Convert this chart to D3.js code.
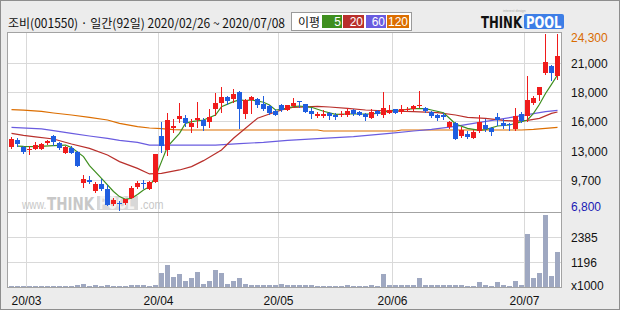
<!DOCTYPE html>
<html><head><meta charset="utf-8">
<script src="https://cdn.jsdelivr.net/npm/d3@7/dist/d3.min.js"></script>
<style>html,body{margin:0;padding:0;background:#ececec}svg{display:block}</style>
</head><body>
<script>
// ---------- data ----------
const title = "조비(001550) · 일간(92일) 2020/02/26 ~ 2020/07/08";
const maLegend = ["5", "20", "60", "120"];
// trading days by month (2020)
const febDays = [26,27,28];
const marDays = [2,3,4,5,6,9,10,11,12,13,16,17,18,19,20,23,24,25,26,27,30,31];
const aprDays = [1,2,3,6,7,8,9,10,13,14,16,17,20,21,22,23,24,27,28,29];
const mayDays = [4,6,7,8,11,12,13,14,15,18,19,20,21,22,25,26,27,28,29];
const junDays = [1,2,3,4,5,8,9,10,11,12,15,16,17,18,19,22,23,24,25,26,29,30];
const julDays = [1,2,3,6,7,8];

const open  = [13000,13750,13000,12800,12800,12800,13400,14100,13400,12450,12900,12550,9400,9700,8600,9300,8850,7300,7400,7400,
  7950,9000,9450,8850,9550,14150,12750,14950,15850,15950,15050,15700,15750,15550,16850,17400,18050,17850,18550,16350,
  17750,17850,17350,17150,16600,17200,16750,17150,17600,17300,16650,16150,16150,16450,16250,16200,16250,16750,16500,16350,
  15950,16650,16250,16450,16800,16500,16700,16850,17150,16950,16500,16250,16250,15050,15450,14150,14350,13950,14650,15200,
  14950,16050,15400,15300,14850,16300,16150,17450,18250,20450,21150,20150];
const high  = [14000,13900,13100,13100,13500,13450,13750,14200,13500,13100,13100,12600,10250,10150,9500,9800,9200,7900,7600,7850,
  9150,9600,9700,9600,12350,15550,16450,15850,17450,16250,15800,17550,15950,16800,18450,19000,18150,18800,18650,17800,
  18150,17900,18150,17200,16800,17350,17250,17950,17600,17350,16900,16550,16700,16500,16400,16650,16950,16800,16600,16400,
  16850,16700,18550,17250,16850,17250,17050,17250,18650,17050,16600,16300,16400,15650,15500,15050,14600,14700,16200,15800,
  15050,16450,15800,15400,16950,16550,20150,18150,19050,24300,21250,24300];
const low   = [12900,13100,12450,12300,12800,12800,13350,13250,12850,12450,12450,11100,9000,9400,8500,8750,7200,7250,6800,7350,
  7900,8900,8950,8800,9550,12550,12200,14550,15550,15150,14500,15050,14700,15050,16250,16550,17350,17550,14950,15900,
  16450,17050,16750,16350,16200,16650,16700,17000,17050,16500,15950,16050,16050,15800,15850,16100,16150,16250,16200,15750,
  15900,16250,16050,16400,16400,16400,16600,16750,17000,16550,16050,15750,15850,14950,13850,14000,13900,13950,14500,14600,
  14250,15200,14900,14750,14750,15550,15650,17350,17750,20350,19750,19850];
const close = [13850,13300,12500,12850,13200,13350,13650,13550,12900,13000,12450,11150,9850,9500,9350,8800,7250,7750,7300,7800,
  8950,9400,9400,9550,12350,13100,15750,15150,16150,15400,15450,15950,15150,16050,17450,18000,17650,18350,16800,17750,
  18050,17200,16850,16450,16250,16750,17200,17450,17550,16550,16350,16350,16350,16150,16050,16350,16600,16300,16250,16050,
  16550,16300,16950,16750,16450,16850,16850,17100,17200,16650,16150,15900,16000,15550,13850,14750,14050,14550,15550,14800,
  14500,15750,15150,15200,16150,15650,17750,17950,19050,21550,20450,22150];
// volume, thousands of shares
const volume = [50,50,50,50,50,50,50,50,50,50,50,100,150,50,100,50,100,50,50,50,
  100,100,100,50,140,710,1050,480,620,290,430,760,190,330,810,710,190,330,430,190,
  140,140,140,140,100,190,100,140,100,100,100,50,50,50,50,50,100,50,50,50,
  100,50,620,100,100,100,100,100,430,100,100,100,100,100,100,100,50,50,240,100,
  50,240,100,50,330,100,2570,430,670,3470,570,1670];

// moving averages: [day index, price]
const ma5 = [[1,13140],[2,13110],[4,13080],[7,13180],[9,13240],[10,12980],[12,12080],[13,11190],[15,9910],[17,8600],[18,8090],[19,7820],[20,7920],[21,8310],[22,8750],[23,9080],[24,10080],[25,11580],[26,13080],[28,14410],[29,15410],[30,15580],[32,15740],[34,16240],[35,17070],[37,17570],[38,17740],[39,17670],[40,17740],[42,17510],[43,17240],[44,16740],[45,16810],[47,17070],[48,17140],[50,17010],[52,16610],[54,16310],[56,16340],[58,16340],[60,16340],[62,16470],[63,16670],[65,16740],[67,16870],[69,16870],[70,16740],[72,16470],[73,15910],[74,15340],[76,14910],[78,14710],[79,14780],[81,15140],[83,15240],[84,15410],[86,15740],[87,16410],[88,17310],[89,18390],[90,19300],[91,20230]];
const ma20 = [[0,14410],[2,14210],[4,14050],[7,13840],[10,13340],[13,12910],[16,12240],[18,11580],[21,10910],[23,10350],[25,10410],[28,10750],[30,11080],[32,11680],[35,12740],[37,13910],[39,14910],[41,15910],[43,16340],[45,16740],[47,17010],[51,17110],[53,17040],[56,16910],[59,16740],[63,16640],[67,16570],[71,16470],[74,16240],[76,16010],[79,15910],[82,15700],[84,15620],[86,15710],[88,15900],[90,16400],[91,16540]];
const ma60 = [[0,15010],[5,14860],[7,14680],[10,14410],[13,14140],[16,13910],[18,13710],[21,13510],[23,13240],[34,13240],[38,13380],[42,13510],[46,13710],[51,13880],[57,14080],[63,14410],[67,14640],[70,14800],[74,15100],[78,15500],[84,16070],[86,16270],[89,16570],[91,16710]];
const ma120 = [[0,16770],[2,16720],[5,16600],[7,16440],[10,16240],[13,16010],[16,15740],[18,15410],[21,15080],[23,14940],[25,14870],[27,14780],[29,14740],[51,14740],[52,14640],[64,14640],[65,14740],[85,14740],[87,14810],[89,14910],[91,15010]];

const priceMin = 6800, priceMax = 24300;
const priceGridLabels = ["9,700","13,000","16,000","18,000","21,000"];
const volMax = 3580;
const volGridLabels = ["1196","2385"];
const volUnit = "x1000";

// ---------- build ----------
const monthLists = [[2,febDays],[3,marDays],[4,aprDays],[5,mayDays],[6,junDays],[7,julDays]];
const dates = [];
monthLists.forEach(([m, ds]) => ds.forEach(d => dates.push({m, d})));
const N = dates.length;
const monthStarts = [];
dates.forEach((dt, i) => { if (i > 0 && dt.m !== dates[i-1].m) monthStarts.push(i); });

const W = 620, H = 310;
const L = 7, R = 562, T = 32, PB = 212, VB = 288;

const C = {
  bg: "#ececec", frame: "#8e8e8e", border: "#a3a3a3", grid: "#d9d9d9",
  up: "#f01c1c", down: "#1f5ee0", vol: "#9fa8c1",
  ma5: "#3f8f1f", ma20: "#b9302c", ma60: "#6a5ce0", ma120: "#dc6e00"
};

const svg = d3.select("body").append("svg").attr("width", W).attr("height", H)
  .style("font-family", "'Liberation Sans', Arial, sans-serif");

svg.append("rect").attr("x",0.5).attr("y",0.5).attr("width",W-1).attr("height",H-1)
  .attr("fill",C.bg).attr("stroke",C.frame);

const x = d3.scaleBand().domain(d3.range(N)).range([8.5, 560.5]).paddingInner(1/6).paddingOuter(1/12);
const y = d3.scaleLinear().domain([priceMin, priceMax]).range([209.5, 34.3]);
const yv = d3.scaleLinear().domain([0, volMax]).range([287.5, 212.3]);
const bw = x.bandwidth();

// panel
svg.append("rect").attr("x",L+0.5).attr("y",T+0.5).attr("width",R-L-1).attr("height",VB-T-1)
  .attr("fill","#fff").attr("stroke",C.border);

const g = svg.append("g").attr("shape-rendering","crispEdges");

// horizontal grid price
const gridVals = priceGridLabels.map((_, k) => priceMin + (k+1)*(priceMax-priceMin)/6);
g.selectAll(".hg").data(gridVals).join("line")
  .attr("x1",L+1).attr("x2",R-1)
  .attr("y1",d=>Math.floor(y(d))+0.5).attr("y2",d=>Math.floor(y(d))+0.5)
  .attr("stroke",C.grid);
// horizontal grid volume
const vGridVals = volGridLabels.map((_, k) => (k+1)*volMax/3);
g.selectAll(".vg").data(vGridVals).join("line")
  .attr("x1",L+1).attr("x2",R-1)
  .attr("y1",d=>Math.floor(yv(d))+0.5).attr("y2",d=>Math.floor(yv(d))+0.5)
  .attr("stroke",C.grid);
// vertical grid
g.selectAll(".xg").data(monthStarts).join("line")
  .attr("x1",d=>x(d)-0.5).attr("x2",d=>x(d)-0.5)
  .attr("y1",T+1).attr("y2",VB-1).attr("stroke",C.grid);
// separator
g.append("line").attr("x1",L).attr("x2",R).attr("y1",PB+0.5).attr("y2",PB+0.5).attr("stroke",C.border);

// narrow text helper: draws natural-size text horizontally squeezed by transform
function squeezed(parent, tx, ty, sx, txt, size, weight, fill, family) {
  return parent.append("text")
    .attr("transform", `translate(${tx},${ty}) scale(${sx},1)`)
    .attr("font-size", size).attr("font-weight", weight).attr("fill", fill)
    .attr("font-family", family).text(txt);
}

// watermark
const wm = svg.append("g");
squeezed(wm, 22, 209, 0.85, "www.", 12, 400, "#c8c8c8", "'Liberation Sans', sans-serif");
squeezed(wm, 47, 209.5, 0.75, "THINK", 18, 900, "#c8c8c8", "'DejaVu Sans', sans-serif");
wm.append("rect").attr("x",97).attr("y",196).attr("width",41).attr("height",14).attr("fill","#d8d8d8");
squeezed(wm, 99, 209, 0.68, "POOL", 17, 900, "#f4f4f4", "'DejaVu Sans', sans-serif");
squeezed(wm, 140, 209, 0.9, ".com", 12, 400, "#c8c8c8", "'Liberation Sans', sans-serif");

// volume bars
g.selectAll(".vb").data(volume).join("rect")
  .attr("x",(d,i)=>x(i)).attr("width",bw)
  .attr("y",d=>Math.round(yv(d)))
  .attr("height",d=>Math.max(1, 287 - Math.round(yv(d))))
  .attr("fill",C.vol);

// moving averages
const line = d3.line().x(d=>x(d[0])+bw/2).y(d=>y(d[1]));
[[ma120,C.ma120],[ma60,C.ma60],[ma20,C.ma20],[ma5,C.ma5]].forEach(([s,c]) => {
  svg.append("path").attr("d",line(s)).attr("fill","none").attr("stroke",c).attr("stroke-width",1.2);
});

// candles
const idx = d3.range(N);
const cg = svg.append("g").attr("shape-rendering","crispEdges");
cg.selectAll(".wk").data(idx).join("line")
  .attr("x1",i=>x(i)+bw/2).attr("x2",i=>x(i)+bw/2)
  .attr("y1",i=>Math.round(y(high[i]))).attr("y2",i=>Math.round(y(low[i]))+1)
  .attr("stroke",i=>close[i]>=open[i]?C.up:C.down);
cg.selectAll(".bd").data(idx).join("rect")
  .attr("x",i=>x(i)).attr("width",bw)
  .attr("y",i=>Math.round(y(Math.max(open[i],close[i]))))
  .attr("height",i=>Math.max(1, Math.round(y(Math.min(open[i],close[i]))) - Math.round(y(Math.max(open[i],close[i])))))
  .attr("fill",i=>close[i]>=open[i]?C.up:C.down);

// right axis labels
const ax = svg.append("g").attr("font-size",12).attr("fill","#111");
ax.selectAll(".pl").data(gridVals).join("text")
  .attr("x",571).attr("y",d=>y(d)+0.5).attr("dominant-baseline","central")
  .text((d,k)=>priceGridLabels[k]);
ax.append("text").attr("x",571).attr("y",y(priceMax)+4).attr("dominant-baseline","central")
  .attr("fill","#d96b00").text(d3.format(",")(priceMax));
ax.append("text").attr("x",571).attr("y",y(priceMin)-2.5).attr("dominant-baseline","central")
  .attr("fill","#1a1ab4").text(d3.format(",")(priceMin));
ax.selectAll(".vl").data(vGridVals).join("text")
  .attr("x",571).attr("y",d=>yv(d)+0.5).attr("dominant-baseline","central")
  .text((d,k)=>volGridLabels[k]);
ax.append("text").attr("x",571).attr("y",285.5).attr("dominant-baseline","central").text(volUnit);

// x labels
ax.selectAll(".xl").data(monthStarts).join("text")
  .attr("x",d=>x(d)-0.5).attr("y",301).attr("text-anchor","middle").attr("dominant-baseline","central")
  .text(d=>"20/" + String(dates[d].m).padStart(2,"0"));

// header
svg.append("text").attr("x",8).attr("y",22).attr("dominant-baseline","central")
  .attr("font-family","'Noto Sans CJK KR', sans-serif").attr("font-size",12.5).attr("fill","#111")
  .attr("textLength",277).attr("lengthAdjust","spacingAndGlyphs").text(title);

// legend
const lg = svg.append("g");
lg.append("rect").attr("x",291.5).attr("y",12.5).attr("width",120).attr("height",18)
  .attr("fill","#fff").attr("stroke","#9a9a9a");
lg.append("text").attr("x",298).attr("y",21.5).attr("dominant-baseline","central")
  .attr("font-family","'Noto Sans CJK KR', sans-serif").attr("font-size",12).attr("fill","#111").text("이평");
const lgBoxes = [[322,20,C.ma5],[343,21,C.ma20],[366,20,C.ma60],[387,22,C.ma120]];
lgBoxes.forEach(([bx,bwid,c],k) => {
  lg.append("rect").attr("x",bx).attr("y",15).attr("width",bwid).attr("height",13).attr("fill",c);
  lg.append("text").attr("x",bx+bwid-1).attr("y",21.8).attr("text-anchor","end").attr("dominant-baseline","central")
    .attr("font-size",12).attr("fill","#fff").text(maLegend[k]);
});

// logo
const lo = svg.append("g");
lo.append("text").attr("x",503).attr("y",11.5).attr("font-size",3.5).attr("fill","#aaa").text("interest design");
squeezed(lo, 481, 28, 0.78, "THINK", 15, 900, "#111", "'DejaVu Sans', sans-serif");
lo.append("rect").attr("x",524).attr("y",14).attr("width",40).attr("height",15).attr("rx",2).attr("fill","#3d7ee6");
squeezed(lo, 526, 28, 0.77, "POOL", 15, 900, "#fff", "'DejaVu Sans', sans-serif");
</script>
</body></html>
